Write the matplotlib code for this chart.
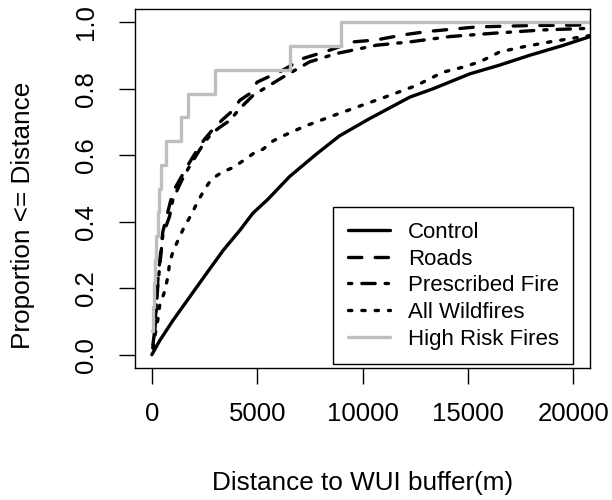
import matplotlib
matplotlib.use("Agg")
import matplotlib.pyplot as plt

plt.rcParams['font.family'] = ['Liberation Sans', 'DejaVu Sans']

# ---- data (distance in m, cumulative proportion) ----
control_x = [0, 370, 1000, 1800, 2600, 3400, 4200, 4800, 5500, 6540, 7800, 8900,
             10300, 12250, 13350, 15100, 16500, 17950, 19500, 20800]
control_y = [0.0, 0.042, 0.103, 0.174, 0.245, 0.315, 0.376, 0.426, 0.467, 0.536,
             0.603, 0.658, 0.709, 0.775, 0.80, 0.845, 0.871, 0.901, 0.93, 0.957]

roads_x = [50, 130, 285, 520, 840, 1000, 1400, 1710, 2190, 2500, 2820, 3060, 3300,
           3850, 4170, 4640, 5000, 6220, 7170, 8440, 9550, 10660, 11920, 13030,
           15410, 17780, 20800]
roads_y = [0.03, 0.07, 0.224, 0.37, 0.45, 0.49, 0.535, 0.57, 0.62, 0.648, 0.672,
           0.685, 0.704, 0.735, 0.765, 0.785, 0.82, 0.856, 0.891, 0.916, 0.941,
           0.947, 0.962, 0.972, 0.986, 0.99, 0.992]

presc_x = [50, 130, 285, 520, 840, 1000, 1400, 1710, 2190, 2500, 2820, 3220, 3690,
           4170, 4800, 6220, 7490, 8760, 10660, 12240, 14140, 16200, 18570, 20800]
presc_y = [0.02, 0.06, 0.21, 0.36, 0.416, 0.467, 0.522, 0.558, 0.608, 0.639, 0.664,
           0.684, 0.704, 0.74, 0.78, 0.835, 0.881, 0.906, 0.931, 0.941, 0.957,
           0.967, 0.977, 0.982]

wild_x = [60, 130, 290, 370, 600, 760, 840, 1000, 1320, 1550, 1870, 2190, 2500,
          2820, 3300, 3850, 4320, 4880, 5270, 5750, 6220, 6780, 7330, 7970, 8600,
          10180, 11290, 12560, 13820, 14770, 15570, 16520, 17620, 18890, 20480, 20800]
wild_y = [0.02, 0.052, 0.108, 0.148, 0.189, 0.234, 0.275, 0.31, 0.355, 0.386, 0.421,
          0.462, 0.497, 0.527, 0.548, 0.563, 0.583, 0.608, 0.618, 0.643, 0.658,
          0.674, 0.689, 0.704, 0.719, 0.755, 0.78, 0.81, 0.85, 0.865, 0.881, 0.911,
          0.926, 0.941, 0.957, 0.96]

# High risk fires: 14 observations (ECDF steps)
highrisk_x = [10, 50, 105, 160, 215, 270, 330, 446, 690, 1370, 1711, 2978, 6541, 8998, 20800]
highrisk_y = [i / 14 for i in range(1, 15)] + [1.0]

series_labels = ["Control", "Roads", "Prescribed Fire", "All Wildfires", "High Risk Fires"]
x_ticks = [0, 5000, 10000, 15000, 20000]
y_ticks = [0.0, 0.2, 0.4, 0.6, 0.8, 1.0]
y_ticklabels = ["0.0", "0.2", "0.4", "0.6", "0.8", "1.0"]
x_label = "Distance to WUI buffer(m)"
y_label = "Proportion <= Distance"

# ---- figure ----
W, H = 612, 500
fig = plt.figure(figsize=(W / 100, H / 100), dpi=100)
L, R, T, B = 135, 590, 9, 368
ax = fig.add_axes([L / W, 1 - B / H, (R - L) / W, (B - T) / H])

lw = 2.4
common = dict(linewidth=lw, dash_capstyle='round', solid_capstyle='round',
              solid_joinstyle='round', dash_joinstyle='round')
ax.plot(control_x, control_y, color='black', linestyle='-', label=series_labels[0], **common)
ax.plot(roads_x, roads_y, color='black', linestyle=(0, (4, 4)), label=series_labels[1], **common)
ax.plot(presc_x, presc_y, color='black', linestyle=(0, (1, 3, 4, 3)), label=series_labels[2], **common)
ax.plot(wild_x, wild_y, color='black', linestyle=(0, (1, 3)), label=series_labels[3], **common)
ax.step(highrisk_x, highrisk_y, where='post', color='#BEBEBE', linestyle='-',
        label=series_labels[4], **common)

ax.set_xlim(-800, 20800)
ax.set_ylim(-0.04, 1.04)
ax.set_xticks(x_ticks)
ax.set_xticklabels([str(v) for v in x_ticks])
ax.set_yticks(y_ticks)
ax.set_yticklabels(y_ticklabels)

for sp in ax.spines.values():
    sp.set_linewidth(1.0)
    sp.set_color('black')

ax.tick_params(axis='both', direction='out', length=11.5, width=1.0, labelsize=18.5,
               colors='black')
ax.tick_params(axis='x', pad=13)
ax.tick_params(axis='y', pad=15)
for lab in ax.get_yticklabels():
    lab.set_rotation(90)
    lab.set_va('center')

ax.set_xlabel(x_label, fontsize=18.8)
ax.xaxis.set_label_coords(0.5, -0.32)
ax.xaxis.label.set_va('center')
ax.set_ylabel(y_label, fontsize=18.8)
ax.yaxis.set_label_coords(-0.246, 0.426)
ax.yaxis.label.set_va('center')

leg = ax.legend(loc='lower right', bbox_to_anchor=((573.3 - L) / (R - L), (B - 364) / (B - T)),
                borderaxespad=0, fontsize=16, handlelength=1.9, handletextpad=0.8,
                labelspacing=0.255, borderpad=0.65, fancybox=False, framealpha=1,
                edgecolor='black')
leg.get_frame().set_linewidth(1.0)

fig.savefig("out.png", dpi=100)
